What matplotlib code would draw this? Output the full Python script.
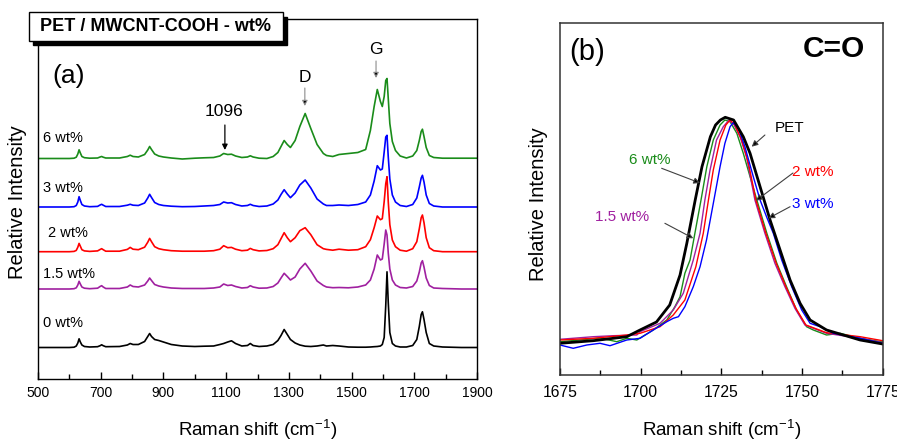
import numpy as np
import matplotlib.pyplot as plt
from matplotlib.patches import Rectangle

plt.rcParams['font.family'] = ['Liberation Sans', 'DejaVu Sans']
plt.rcParams['mathtext.fontset'] = 'custom'
plt.rcParams['mathtext.rm'] = 'Liberation Sans'
plt.rcParams['mathtext.it'] = 'Liberation Sans:italic'

# ---------------- (a) full spectra, stacked ----------------
shift_a = [500, 600, 615, 622, 627, 631, 635, 640, 648, 665,
           690, 698, 703, 708, 716,
           760, 785, 794, 803, 820, 840, 850, 856, 862, 872, 885, 900, 925, 960, 1000,
           1030, 1060, 1080, 1092, 1105, 1117, 1130, 1150, 1168, 1177, 1186, 1205, 1230, 1250,
           1265, 1275, 1285, 1295, 1305, 1320, 1335, 1352, 1370, 1390, 1410, 1420, 1440, 1460,
           1490, 1520, 1545, 1560, 1572, 1582, 1592, 1598, 1604, 1609, 1613, 1617, 1622, 1630,
           1640, 1655, 1675, 1695, 1708, 1716, 1722, 1726, 1731, 1738, 1748, 1762, 1790, 1850, 1900]

int_0 = [0, 0, 0.3, 1.5, 4.5, 8.7, 5.5, 2.5, 1, 0.5,
         0.8, 1.8, 2.7, 1.8, 0.8,
         1, 2.5, 4, 3, 3, 6, 11, 14, 11, 8, 7, 5.5, 3, 1.5, 1,
         1.3, 1.5, 3, 4, 5.5, 6.7, 4, 1.5, 2, 4, 2, 1, 1.5, 3,
         7, 12, 18, 13, 8, 4.5, 2.5, 1.3, 1, 1.5, 2.5, 1.5, 2, 1.5,
         0.5, 0.3, 0.3, 0.5, 0.8, 1, 1.5, 3, 10, 42, 75.7, 45, 15, 4,
         1.5, 0.5, 0.5, 2, 8, 21, 33, 35.7, 28, 15, 4, 1.5, 0.5, 0, 0]

int_15 = [0, 0, 0.3, 1.2, 4, 7.7, 5, 2, 0.8, 0.3,
          0.8, 2.5, 3.3, 2, 0.5,
          0.5, 2, 4, 2.5, 2, 4, 8, 11, 8.5, 4.5, 3, 2, 1, 0.5, 0.5,
          0.5, 1, 2, 5, 3.5, 4, 2.5, 1, 1.5, 3.3, 2, 0.8, 1, 2.5,
          6, 11, 15.7, 12.5, 9, 12, 20, 25.7, 18, 8, 3.5, 2, 1.3, 1.5,
          1.2, 2, 4, 9, 20, 34, 29, 30, 45, 59, 54, 36, 20, 9,
          4, 1.5, 1, 2.5, 8, 17, 26, 28.3, 22, 11, 3.5, 1, 0.5, 0, 0]

int_2 = [0, 0, 0.3, 1.3, 4.5, 8.3, 5.5, 2, 0.8, 0.3,
         0.8, 2.2, 3, 2, 0.5,
         0.5, 2.3, 4.3, 2.5, 2, 4.5, 9.5, 13.3, 10, 5, 3, 2, 1, 0.5, 0.5,
         0.5, 1, 2.5, 6, 4, 4.3, 2.5, 1, 1.5, 3.3, 2, 0.8, 1.2, 3,
         7, 13, 19, 14, 10, 14, 21, 24, 17, 7, 3, 2.3, 1.5, 2.5,
         1.5, 2, 5, 12, 24, 35.7, 32, 33, 50, 68, 75, 50, 27, 11.7,
         5, 1.5, 0.5, 3, 10, 23, 34, 36.7, 29, 14, 4, 1, 0, 0, 0]

int_3 = [0, 0, 0.3, 1.5, 5, 10.3, 6.5, 2.5, 1, 0.3,
         0.6, 2, 2.7, 1.8, 0.5,
         0.5, 1.8, 2.7, 1.8, 1.5, 4, 9, 12.7, 9.5, 4.5, 2.5, 1.5, 0.8, 0.3, 0.5,
         1, 1.5, 2.5, 5, 4, 4.3, 2.5, 1, 1.5, 2.7, 1.5, 0.5, 1, 3,
         7, 12.5, 17.3, 13, 9.3, 14, 22, 27, 19, 8, 3, 1.5, 1.5, 2,
         1.5, 2.5, 5, 12, 26, 41.3, 37, 38, 55, 70, 71.7, 50, 28, 12,
         5, 1.5, 0.5, 2.5, 9, 20, 29, 31.7, 25, 12, 3.5, 1, 0, 0, 0]

int_6 = [0, 0, 0.3, 1.3, 4.5, 8.7, 5.5, 2, 0.8, 0.3,
         0.5, 1.5, 2, 1.3, 0.5,
         0.5, 2, 3.3, 2, 1.5, 4, 8.5, 12, 9, 4.5, 2.5, 1.5, 0.5, -0.5, 0.3,
         0.7, 1, 2.5, 5, 4, 4.3, 2.5, 1, 1.5, 2.7, 1.5, 0.3, 0, 2,
         6, 12, 18, 14, 11, 18, 32, 45, 30, 14, 5, 3, 2, 4,
         5, 6, 9, 28, 52, 69, 57, 52, 62, 78, 80, 60, 35, 17,
         8, 2.5, 0.5, 2.5, 8, 18, 27, 29.3, 22, 11, 3, 1, 0.3, 0.3, 0.3]

labels_a = ['0 wt%', '1.5 wt%', '2 wt%', '3 wt%', '6 wt%']
offsets_a = [31.5, 90, 127.3, 172, 220.5]
label_y_a = [56, 105, 146, 191, 241]
label_x_a = [516, 516, 532, 516, 516]
colors = ['black', '#a020a0', '#ff0000', '#0000ff', '#1a8c1a']

# ---------------- (b) C=O band ----------------
pet_x = [1675, 1685.3, 1695.7, 1699.8, 1704.9, 1709.0, 1712.2, 1714.3, 1716.9, 1719.0,
         1721.6, 1723.2, 1724.7, 1726.2, 1728.8, 1731.8, 1733.9, 1737.0, 1740.1, 1743.2,
         1746.3, 1749.4, 1752.5, 1757.6, 1768.0, 1775]
pet_y = [31.7, 34.3, 38.3, 45, 53, 70, 100, 131.7, 175, 208.3,
         238.3, 250, 255, 257.7, 255, 238.3, 221.7, 188.3, 155, 125,
         95, 71.7, 55, 45, 35, 31]

w15_x = [1675, 1685.3, 1691.5, 1698.8, 1699.8, 1706.0, 1710.1, 1713.2, 1716.3, 1718.4,
         1719.9, 1721.5, 1723.5, 1725.6, 1727.2, 1728.7, 1730.8, 1732.8, 1735.4, 1738.5,
         1741.6, 1744.7, 1747.8, 1750.9, 1757.6, 1768.0, 1775]
w15_y = [35.7, 38.3, 39.3, 40, 43.3, 51.7, 65, 81.7, 115, 141.7,
         175, 205, 235, 248.3, 254.3, 251.7, 238.3, 218.3, 175, 141.7,
         111.7, 88.3, 66.7, 50, 41.7, 36.7, 32.3]

w2_x = [1675, 1685.3, 1695.7, 1699.8, 1706.0, 1710.1, 1713.7, 1717.1, 1719.4, 1721.0,
        1722.5, 1724.6, 1726.4, 1727.7, 1729.2, 1731.3, 1733.4, 1735.7, 1738.8, 1742.0,
        1745.0, 1748.1, 1751.2, 1757.6, 1768.0, 1775]
w2_y = [35, 36.7, 40, 41.7, 48.3, 60, 75, 108.3, 141.7, 175,
        205, 235, 250, 255, 250, 235, 211.7, 175, 141.7, 111.7,
        88.3, 66.7, 50, 42.3, 38.3, 34.3]

w3_x = [1675, 1679.1, 1683.3, 1687.4, 1690.5, 1695.7, 1699.8, 1703.9, 1708.1, 1710.1,
        1711.7, 1713.7, 1716.3, 1718.4, 1720.4, 1722.7, 1724.6, 1726.1, 1727.7, 1728.7,
        1730.3, 1732.3, 1734.9, 1737.0, 1739.0, 1741.1, 1743.7, 1746.8, 1749.9, 1752.5,
        1755.6, 1759.7, 1768.0, 1775]
w3_y = [30, 26.7, 30, 31.7, 29.3, 35, 36.7, 45, 53.3, 56.7,
        58.3, 68.3, 88.3, 108.3, 135, 175, 208.3, 231.7, 248.3, 252.3,
        246.7, 228.3, 198.3, 175, 158.3, 141.7, 115, 88.3, 65, 51.7,
        48.3, 41.7, 36.7, 31.7]

w6_x = [1675, 1681.2, 1687.4, 1692.6, 1695.7, 1698.8, 1703.9, 1708.1, 1710.6, 1712.2,
        1713.7, 1715.3, 1716.8, 1718.7, 1720.5, 1722.5, 1724.6, 1726.1, 1727.7, 1729.8,
        1731.8, 1733.9, 1736.0, 1739.1, 1742.2, 1745.2, 1748.3, 1751.4, 1753.5, 1757.6,
        1761.8, 1768.0, 1775]
w6_y = [33.3, 35, 37, 33.3, 36.7, 35, 45, 55, 68.3, 78.3,
        101.7, 115, 141.7, 175, 208.3, 235, 250, 255, 253.3, 241.7,
        221.7, 198.3, 175, 141.7, 111.7, 88.3, 65, 48.3, 45, 40,
        41.7, 36.7, 33]

fig = plt.figure(figsize=(8.97, 4.41), dpi=100)
W, H = 897, 441
ax1 = fig.add_axes([38 / W, 1 - 379 / H, 439 / W, 360 / H])
ax2 = fig.add_axes([560 / W, 1 - 375 / H, 322.7 / W, 352.3 / H])

# panel (a)
series_a = [int_0, int_15, int_2, int_3, int_6]
for ys, off, c, lab, lx, ly in zip(series_a, offsets_a, colors, labels_a, label_x_a, label_y_a):
    ax1.plot(shift_a, np.array(ys) + off, color=c, lw=1.2)
    ax1.text(lx, ly, lab, fontsize=10.5, ha='left', va='center')

ax1.set_xlim(500, 1900)
ax1.set_ylim(0, 360)
ax1.set_xticks(range(500, 1901, 200))
ax1.set_xticks(range(600, 1900, 200), minor=True)
ax1.set_yticks([])
ax1.tick_params(axis='x', which='major', direction='in', length=5, width=1, labelsize=10, pad=5)
ax1.tick_params(axis='x', which='minor', direction='in', length=3.5, width=1)
for s in ax1.spines.values():
    s.set_linewidth(1.0)
ax1.set_xlabel('Raman shift (cm$^{-1}$)', fontsize=13.5)
ax1.xaxis.set_label_coords(0.5, -0.108)
ax1.set_ylabel('Relative Intensity', fontsize=14.5)
ax1.yaxis.set_label_coords(-0.025, 0.49)

ax1.text(599, 303, '(a)', fontsize=19, ha='center', va='center')

ax1.annotate('', xy=(1096, 229), xytext=(1096, 254),
             arrowprops=dict(arrowstyle='-|>', color='k', lw=0.9, mutation_scale=8,
                             shrinkA=0, shrinkB=0))
ax1.text(1093, 267, '1096', fontsize=12.5, ha='center', va='center')
ax1.annotate('', xy=(1351, 273), xytext=(1351, 291),
             arrowprops=dict(arrowstyle='-|>', ec='0.55', fc='k', lw=0.8, mutation_scale=8,
                             shrinkA=0, shrinkB=0))
ax1.text(1351, 302, 'D', fontsize=12.5, ha='center', va='center')
ax1.annotate('', xy=(1578, 301), xytext=(1578, 318),
             arrowprops=dict(arrowstyle='-|>', ec='0.55', fc='k', lw=0.8, mutation_scale=8,
                             shrinkA=0, shrinkB=0))
ax1.text(1578, 329, 'G', fontsize=12.5, ha='center', va='center')

# title box with drop shadow, overlapping the top-left of panel (a)
shadow = Rectangle((33 / W, 1 - 45 / H), 254 / W, 28 / H, transform=fig.transFigure,
                   fc='black', ec='black', zorder=10)
box = Rectangle((29 / W, 1 - 40.5 / H), 254 / W, 28.5 / H, transform=fig.transFigure,
                fc='white', ec='black', lw=1.0, zorder=11)
fig.add_artist(shadow)
fig.add_artist(box)
fig.text(155 / W, 1 - 26.5 / H, 'PET / MWCNT-COOH - wt%', fontsize=13, fontweight='bold',
         ha='center', va='center', zorder=12)

# panel (b)
ax2.plot(w6_x, w6_y, color=colors[4], lw=1.0)
ax2.plot(w15_x, w15_y, color=colors[1], lw=1.0)
ax2.plot(w2_x, w2_y, color=colors[2], lw=1.0)
ax2.plot(w3_x, w3_y, color=colors[3], lw=1.0)
ax2.plot(pet_x, pet_y, color='black', lw=2.0)

ax2.set_xlim(1675, 1775)
ax2.set_ylim(0, 352.3)
ax2.set_xticks([1675, 1700, 1725, 1750, 1775])
ax2.set_xticks([1687.5, 1712.5, 1737.5, 1762.5], minor=True)
ax2.set_yticks([])
ax2.tick_params(axis='x', which='major', direction='in', length=5, width=1, labelsize=11.3, pad=7)
ax2.tick_params(axis='x', which='minor', direction='in', length=3.5, width=1)
for s in ax2.spines.values():
    s.set_linewidth(1.1)
    s.set_color('#333333')
ax2.set_xlabel('Raman shift (cm$^{-1}$)', fontsize=13.5)
ax2.xaxis.set_label_coords(0.5, -0.122)
ax2.set_ylabel('Relative Intensity', fontsize=14.5)
ax2.yaxis.set_label_coords(-0.037, 0.485)

ax2.text(1683.4, 323, '(b)', fontsize=21, ha='center', va='center')
ax2.text(1759.9, 326, 'C=O', fontsize=21.5, fontweight='bold', ha='center', va='center')

arrow_b = dict(arrowstyle='-|>', ec='0.25', fc='k', lw=0.8, mutation_scale=9,
               shrinkA=0, shrinkB=0)
ax2.annotate('', xy=(1734.4, 228.3), xytext=(1738.5, 240), arrowprops=arrow_b)
ax2.text(1746, 247, 'PET', fontsize=11, ha='center', va='center')
ax2.annotate('', xy=(1718.4, 192), xytext=(1706.5, 206.7), arrowprops=arrow_b)
ax2.text(1702.9, 215, '6 wt%', fontsize=11, color=colors[4], ha='center', va='center')
ax2.annotate('', xy=(1735.7, 174.3), xytext=(1747.2, 202), arrowprops=arrow_b)
ax2.text(1753.4, 203, '2 wt%', fontsize=11, color=colors[2], ha='center', va='center')
ax2.annotate('', xy=(1739.6, 156.7), xytext=(1746.3, 168.3), arrowprops=arrow_b)
ax2.text(1753.4, 171, '3 wt%', fontsize=11, color=colors[3], ha='center', va='center')
ax2.annotate('', xy=(1716.3, 136.7), xytext=(1707.5, 151.7), arrowprops=arrow_b)
ax2.text(1694.2, 158, '1.5 wt%', fontsize=11, color=colors[1], ha='center', va='center')

fig.savefig('out.png', dpi=100)
